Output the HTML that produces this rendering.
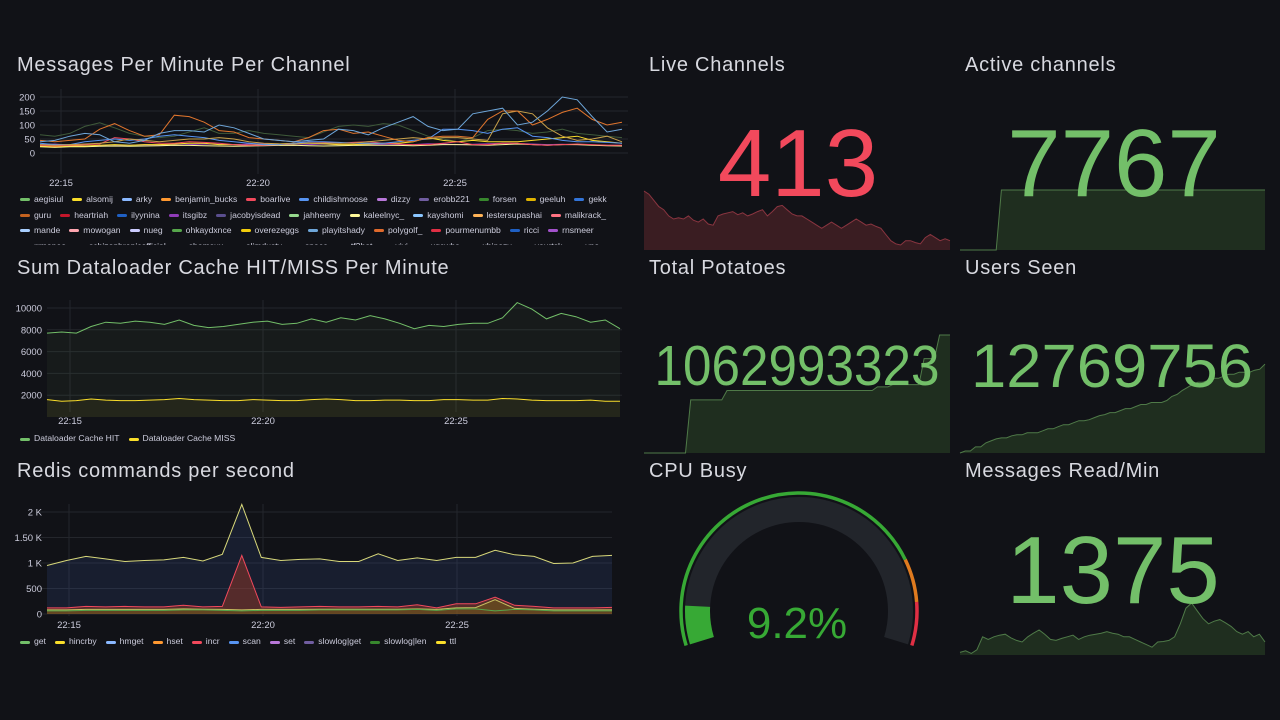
<!DOCTYPE html>
<html><head><meta charset="utf-8">
<style>
html,body{margin:0;padding:0;background:#111217;width:1280px;height:720px;overflow:hidden;font-family:"Liberation Sans",sans-serif;color:#ccccdc}
.t{position:absolute;font-size:20px;letter-spacing:0.75px;color:#d8d9e0;white-space:nowrap}
svg{position:absolute;left:0;top:0}
.leg{position:absolute;font-size:8.6px;color:#ccccdc;display:flex;flex-wrap:wrap;column-gap:9px;row-gap:4px;overflow:hidden;line-height:11.5px}
.li{display:flex;align-items:center;white-space:nowrap}
.li i{display:inline-block;width:10px;height:3px;border-radius:2px;margin-right:4px}
</style></head><body>
<div class="t" style="left:17px;top:54px">Messages Per Minute Per Channel</div>
<div class="t" style="left:17px;top:257px">Sum Dataloader Cache HIT/MISS Per Minute</div>
<div class="t" style="left:17px;top:460px">Redis commands per second</div>
<div class="t" style="left:649px;top:54px">Live Channels</div>
<div class="t" style="left:965px;top:54px">Active channels</div>
<div class="t" style="left:649px;top:257px">Total Potatoes</div>
<div class="t" style="left:965px;top:257px">Users Seen</div>
<div class="t" style="left:649px;top:460px">CPU Busy</div>
<div class="t" style="left:965px;top:460px">Messages Read/Min</div>

<div class="leg" id="leg1" style="left:20px;top:194px;width:625px;height:51px"></div>
<div class="leg" id="leg2" style="left:20px;top:432px;width:600px;height:14px"></div>
<div class="leg" id="leg3" style="left:20px;top:635px;width:600px;height:14px"></div>

<svg id="main" width="1280" height="720"></svg>

<script>
// ---------- Panel 1 data ----------
const p1Ticks = [0,50,100,150,200];
const p1TimeTicks = ["22:15","22:20","22:25"];
const p1Names = ["aegisiul","alsomij","arky","benjamin_bucks","boarlive","childishmoose","dizzy","erobb221","forsen","geeluh","gekk","guru","heartriah","ilyynina","itsgibz","jacobyisdead","jahheemy","kaleelnyc_","kayshomi","lestersupashai","malikrack_","mande","mowogan","nueg","ohkaydxnce","overezeggs","playitshady","polygolf_","pourmenumbb","ricci","rnsmeer","rrmoneo","schizophrenicofficial","shamsux","slimdusty","space","tf2bot","vivi","xqcwhs","xbinozy","yourtsk","ypo"];
const p1Colors = ["#73bf69","#fade2a","#8ab8ff","#ff9830","#f2495c","#5794f2","#b877d9","#705da0","#37872d","#e0b400","#3274d9","#c4621f","#c4162a","#1f60c4","#8f3bb8","#5a4e8e","#96d98d","#fff899","#8ac6ff","#ffb357","#ff7383","#a9cfff","#ffa6b0","#ccccff","#56a64b","#f2cc0c","#6ea6d9","#e06a2c","#e02f44","#1f60c4","#a352cc","#73bf69","#fade2a","#8ab8ff","#ff9830","#f2495c","#5794f2","#b877d9","#705da0","#37872d","#e0b400","#3274d9"];
const p1SeriesDarkGreen = [65,60,70,95,108,90,70,60,55,60,75,90,70,70,80,70,65,60,55,75,95,100,95,105,100,80,60,50,40,55,80,85,80,70,75,85,70,65,60,55];
const p1SeriesGekk = [40,45,60,70,65,40,35,45,70,80,80,75,100,90,70,50,45,40,45,50,85,80,65,90,110,130,95,80,85,140,150,160,100,110,150,200,190,130,75,85];
const p1SeriesGuru = [45,40,45,50,85,105,80,60,65,135,130,110,80,75,55,50,45,40,55,80,85,70,75,60,45,40,55,60,60,55,120,150,150,100,120,145,160,120,100,110];
const p1SeriesArky = [35,30,30,40,45,50,45,50,60,65,60,55,45,40,35,30,30,35,40,40,38,35,35,35,40,45,50,85,85,80,70,85,90,60,55,45,40,40,38,35];
const p1SeriesOlive = [30,28,30,32,35,40,50,45,40,45,50,50,55,50,40,35,33,32,35,35,35,35,40,45,50,55,50,55,55,50,45,140,150,140,90,60,45,50,60,40];
const p1SeriesRed = [28,25,28,30,32,55,50,40,35,35,40,38,35,30,28,28,30,35,40,38,35,38,40,35,32,30,30,35,40,30,30,35,35,30,28,30,32,30,28,28];
const p1SeriesYellow = [25,22,25,25,28,30,28,30,30,32,35,35,30,30,28,30,32,35,35,33,30,30,32,35,35,40,55,45,40,45,40,40,40,45,50,55,60,45,40,35];
const p1SeriesLow1 = [22,20,22,22,24,25,24,25,26,28,27,26,25,24,25,26,27,28,26,25,26,27,28,28,27,26,28,30,30,29,28,30,32,30,28,30,30,28,26,25];
const p1SeriesLow2 = [30,32,28,26,25,26,28,30,29,28,30,32,31,30,32,33,30,28,30,32,30,30,31,30,29,30,33,32,30,31,33,35,34,32,30,31,30,29,28,27];

// ---------- Panel 2 data ----------
const p2Ticks = [2000,4000,6000,8000,10000];
const p2Names = ["Dataloader Cache HIT","Dataloader Cache MISS"];
const p2Hit = [7700,7800,7700,8300,8700,8600,8800,8700,8500,8900,8400,8200,8300,8500,8700,8800,8500,8600,9000,8700,9100,8900,9300,9000,8600,8100,8400,8300,8500,8600,8600,9100,10500,9900,9000,9500,9200,8700,8900,8100];
const p2Miss = [1600,1450,1500,1650,1550,1500,1500,1550,1600,1700,1600,1550,1500,1500,1600,1550,1500,1500,1600,1650,1600,1500,1500,1550,1550,1500,1500,1600,1600,1550,1550,1700,1650,1550,1500,1500,1500,1550,1450,1450];

// ---------- Panel 3 data ----------
const p3Ticks = [0,500,1000,1500,2000];
const p3TickLabels = ["0","500","1 K","1.50 K","2 K"];
const p3Names = ["get","hincrby","hmget","hset","incr","scan","set","slowlog|get","slowlog|len","ttl"];
const p3Colors = ["#73bf69","#fade2a","#8ab8ff","#ff9830","#f2495c","#5794f2","#b877d9","#705da0","#37872d","#fade2a"];
const p3Top = [950,1050,1130,1080,1030,1050,1060,1110,1040,1170,2150,1110,1050,1070,1080,1030,1030,1180,1050,1100,1050,1110,1110,1250,1160,1130,990,1000,1130,1150];
const p3Incr = [120,120,150,140,150,140,140,170,140,150,1150,140,130,140,150,140,140,150,140,180,120,200,200,330,170,150,120,120,120,130];
const p3Yellow = [80,80,90,90,90,90,90,100,95,90,80,90,90,90,95,95,95,95,95,100,90,120,125,280,110,95,80,80,80,80];
const p3Get = [60,60,70,70,70,70,70,80,80,70,60,70,70,70,80,80,80,80,80,90,70,100,100,60,90,80,60,60,60,60];

// ---------- Stat sparklines ----------
const liveChannels = [95,90,80,70,65,55,50,52,50,55,48,45,50,42,40,55,58,60,62,57,60,55,58,62,65,55,62,70,72,65,58,55,55,50,45,40,35,40,45,40,35,40,45,50,45,40,42,38,35,25,15,10,8,15,15,12,10,20,25,20,15,18,15];
const activeChannels = [0,0,0,0,0,0,0,0,100,100,100,100,100,100,100,100,100,100,100,100,100,100,100,100,100,100,100,100,100,100,100,100,100,100,100,100,100,100,100,100,100,100,100,100,100,100,100,100,100,100,100,100,100,100,100,100,100,100,100,100];
const totalPotatoes = [0,0,0,0,0,0,0,0,0,45,45,45,45,45,45,45,53,53,53,53,53,53,53,53,53,53,53,53,53,53,53,53,53,53,53,53,53,53,53,53,53,53,53,53,53,56,56,56,58,58,58,58,58,58,80,80,80,100,100,100];
const usersSeen = [0,2,2,6,6,10,12,14,15,15,17,18,18,20,20,20,22,24,24,26,28,28,30,32,32,33,35,37,38,40,40,42,44,44,46,48,48,50,50,50,52,56,58,62,65,68,70,70,72,74,74,76,78,78,80,80,80,82,83,88];
const messagesRead = [5,8,3,10,35,30,35,38,40,33,28,25,35,42,48,40,30,28,32,35,38,30,35,38,40,42,45,42,40,35,35,30,25,20,15,25,26,28,35,60,90,100,85,70,60,65,68,62,55,45,40,45,35,40,25];
const cpuValue = [9.2];
const cpuThresholds = [0.8,0.9];

// ---------- drawing ----------
const NS = "http://www.w3.org/2000/svg";
const svg = document.getElementById("main");
function el(tag, attrs, parent){const e=document.createElementNS(NS,tag);for(const k in attrs)e.setAttribute(k,attrs[k]);(parent||svg).appendChild(e);return e;}
function lin(d0,d1,r0,r1){return v=>r0+(v-d0)/(d1-d0)*(r1-r0);}
function linePath(vals,xs,ys){return vals.map((v,i)=>(i?"L":"M")+xs(i).toFixed(1)+","+ys(v).toFixed(1)).join("");}

function axes(yTicks,yLabels,ys,x0,x1,timeX,timeY,labelX){
  yTicks.forEach((t,i)=>{
    const g=el("line",{x1:x0,x2:x1,y1:ys(t),y2:ys(t),stroke:"#24262c","stroke-width":1});
    
    
    const tx=el("text",{x:labelX,y:ys(t)+3.5,"text-anchor":"end","font-size":"9.5",fill:"#ccccdc"});
    tx.textContent=yLabels[i];
    
    
  });
  p1TimeTicks.forEach((t,i)=>{
    const x=timeX(15+5*i);
    const g=el("line",{x1:x,x2:x,y1:ys(yTicks[yTicks.length-1])-8,y2:timeY-12,stroke:"#24262c","stroke-width":1});
    
    
    const tx=el("text",{x:x,y:timeY,"text-anchor":"middle","font-size":"9.5",fill:"#ccccdc"});
    tx.textContent=t;
    
    
  });
}

// Panel 1
(function(){
  const ys=lin(0,200,153,97);
  const tx=lin(15,20,61,258);
  const x0=40,x1=628;
  axes(p1Ticks,p1Ticks.map(String),ys,x0,x1,tx,186,35);
  const n=40, xs=i=>lin(0,n-1,40,622)(i);
  const series=[[p1SeriesDarkGreen,"#3f5a3a"],[p1SeriesLow2,"#8f3bb8"],[p1SeriesLow1,"#fff899"],[p1SeriesYellow,"#fade2a"],[p1SeriesRed,"#f2495c"],[p1SeriesArky,"#5794f2"],[p1SeriesOlive,"#c8a14a"],[p1SeriesGuru,"#e0752d"],[p1SeriesGekk,"#6ea6d9"]];
  series.forEach(([vals,c])=>{
    const p=el("path",{d:linePath(vals,xs,ys),fill:"none",stroke:c,"stroke-width":1});
    
    
  });
  const leg=document.getElementById("leg1");
  p1Names.forEach((nm,i)=>{
    const d=document.createElement("div");d.className="li";
    
    
    d.innerHTML='<i style="background:'+p1Colors[i]+'"></i>'+nm;leg.appendChild(d);
  });
})();

// Panel 2
(function(){
  const ys=lin(0,10000,417,308);
  const tx=lin(15,20,70,263);
  axes(p2Ticks,p2Ticks.map(String),ys,47,622,tx,424,42);
  const n=p2Hit.length, xs=i=>lin(0,n-1,47,620)(i);
  [[p2Hit,"#73bf69","rgba(115,191,105,0.06)"],[p2Miss,"#fade2a","rgba(250,222,42,0.06)"]].forEach(([vals,c,f])=>{
    const d=linePath(vals,xs,ys);
    const a=el("path",{d:d+"L"+xs(n-1)+","+ys(0)+"L"+xs(0)+","+ys(0)+"Z",fill:f,stroke:"none"});
    
    
    const p=el("path",{d:d,fill:"none",stroke:c,"stroke-width":1});
    
    
  });
  const leg=document.getElementById("leg2");
  p2Names.forEach((nm,i)=>{
    const d=document.createElement("div");d.className="li";
    
    
    d.innerHTML='<i style="background:'+["#73bf69","#fade2a"][i]+'"></i>'+nm;leg.appendChild(d);
  });
})();

// Panel 3
(function(){
  const ys=lin(0,2000,614,512);
  const tx=lin(15,20,69,263);
  axes(p3Ticks,p3TickLabels,ys,40,612,tx,628,42);
  const n=p3Top.length, xs=i=>lin(0,n-1,47,612)(i);
  const base="L"+xs(n-1)+","+ys(0)+"L"+xs(0)+","+ys(0)+"Z";
  [[p3Top,"#d8d87a","rgba(60,90,160,0.18)"],[p3Incr,"#f2495c","rgba(160,60,40,0.45)"],[p3Yellow,"#c8c060","rgba(120,110,20,0.4)"],[p3Get,"#56a64b","rgba(0,0,0,0)"]].forEach(([vals,c,f])=>{
    const d=linePath(vals,xs,ys);
    const a=el("path",{d:d+base,fill:f,stroke:"none"});
    
    
    const p=el("path",{d:d,fill:"none",stroke:c,"stroke-width":1});
    
    
  });
  const leg=document.getElementById("leg3");
  p3Names.forEach((nm,i)=>{
    const d=document.createElement("div");d.className="li";
    
    
    d.innerHTML='<i style="background:'+p3Colors[i]+'"></i>'+nm;leg.appendChild(d);
  });
})();

// Sparklines
function spark(vals,x0,x1,yb,yt,stroke,fill,name){
  const xs=i=>lin(0,vals.length-1,x0,x1)(i), ys=lin(0,100,yb,yt);
  const d=linePath(vals,xs,ys);
  const a=el("path",{d:d+"L"+x1+","+yb+"L"+x0+","+yb+"Z",fill:fill,stroke:"none"});
  
  
  const p=el("path",{d:d,fill:"none",stroke:stroke,"stroke-width":1});
  
  
}
spark(liveChannels,644,950,250,188,"#8a3540","#3a1d22","live-channels");
spark(activeChannels,960,1265,250,190,"#4f7a48","#1f2e1f","active-channels");
spark(totalPotatoes,644,950,453,335,"#4f7a48","#1f2e1f","total-potatoes");
spark(usersSeen,960,1265,453,352,"#4f7a48","#1f2e1f","users-seen");
spark(messagesRead,960,1265,655,603,"#4f7a48","#1f2e1f","messages-read");

function bigText(txt,x,y,size,color,name,len){
  const attrs={x:x,y:y,"text-anchor":"middle","font-size":size,fill:color,"font-family":"Liberation Sans, sans-serif"};
  if(len){attrs.textLength=len;attrs.lengthAdjust="spacingAndGlyphs";}
  const t=el("text",attrs);
  t.textContent=txt;
  
  
}
bigText("413",798,196,96,"#f2495c","live-channels-value");
bigText("7767",1114,196,96,"#73bf69","active-channels-value");
bigText("1062993323",797,385,57,"#73bf69","total-potatoes-value",285);
bigText("12769756",1112,387,61,"#73bf69","users-seen-value",282);
bigText("1375",1113,603,96,"#73bf69","messages-read-value");

// Gauge
(function(){
  const cx=799,cy=611,a0=197,a1=-17,sweep=a0-a1;
  const clip=el("clipPath",{id:"gclip"});
  el("rect",{x:640,y:480,width:310,height:168},clip);
  const g=el("g",{"clip-path":"url(#gclip)"});
  
  
  function pt(r,a){const rad=a*Math.PI/180;return [cx+r*Math.cos(rad),cy-r*Math.sin(rad)];}
  function arc(r,s,e,color,w,name){
    const p0=pt(r,s),p1=pt(r,e),large=(s-e)>180?1:0;
    const p=el("path",{d:"M"+p0[0]+","+p0[1]+"A"+r+","+r+" 0 "+large+" 1 "+p1[0]+","+p1[1],fill:"none",stroke:color,"stroke-width":w},g);
    
    
  }
  arc(101.5,a0,a1,"#22252b",25,"gauge-track");
  const fv=cpuValue[0]/100;
  arc(101.5,a0,a0-sweep*fv,"#37a935",25,"gauge-value-arc");
  arc(118,a0,a0-sweep*cpuThresholds[0],"#37a935",3.5,"threshold-green");
  arc(118,a0-sweep*cpuThresholds[0],a0-sweep*cpuThresholds[1],"#e07b1f",3.5,"threshold-orange");
  arc(118,a0-sweep*cpuThresholds[1],a1,"#e02f44",3.5,"threshold-red");
  bigText(cpuValue[0]+"%",797,638,44,"#37a935","cpu-busy-value");
})();
</script>
</body></html>
